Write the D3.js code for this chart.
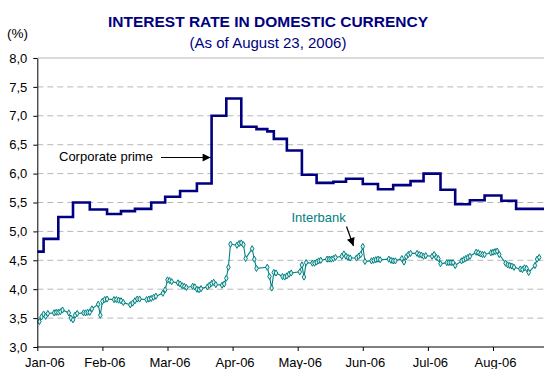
<!DOCTYPE html>
<html><head><meta charset="utf-8">
<script src="https://cdn.jsdelivr.net/npm/d3@7"></script>
<style>
html,body{margin:0;padding:0;background:#fff;}
svg{display:block;font-family:"Liberation Sans",Arial,sans-serif;}
</style>
</head><body>
<svg id="chart" width="544" height="369"></svg>
<script>
// ---------- data ----------
const title = "INTEREST RATE IN DOMESTIC CURRENCY";
const subtitle = "(As of August 23, 2006)";
const yUnit = "(%)";
const monthLabels = ["Jan-06","Feb-06","Mar-06","Apr-06","May-06","Jun-06","Jul-06","Aug-06"];
const yTicks = [3.0,3.5,4.0,4.5,5.0,5.5,6.0,6.5,7.0,7.5,8.0];

const primeName = "Corporate prime";
const primeDates = ["01-01","01-04","01-11","01-18","01-26","02-03","02-09","02-15","02-22","02-28",
  "03-07","03-15","03-22","03-29","04-05","04-12","04-17","04-20","04-26","05-03",
  "05-10","05-18","05-24","06-01","06-08","06-15","06-23","06-29","07-07","07-14",
  "07-21","07-28","08-05","08-12"];
const primeValues = [4.65,4.87,5.25,5.50,5.38,5.30,5.35,5.39,5.50,5.60,
  5.70,5.83,7.00,7.30,6.81,6.77,6.73,6.60,6.40,5.98,
  5.84,5.86,5.91,5.82,5.73,5.80,5.87,6.00,5.72,5.47,
  5.54,5.62,5.53,5.39];

const interbankName = "Interbank";
const interbankDates = [
  "01-02","01-03","01-04","01-05","01-06","01-09","01-10","01-11","01-12","01-13",
  "01-16","01-17","01-18","01-19","01-20","01-23","01-24","01-25","01-26","01-27","01-30","01-31",
  "02-01","02-02","02-03","02-06","02-07","02-08","02-09","02-10","02-13","02-14",
  "02-15","02-16","02-17","02-20","02-21","02-22","02-23","02-24","02-27","02-28",
  "03-01","03-02","03-03","03-06","03-07","03-08","03-09","03-10","03-13","03-14",
  "03-15","03-16","03-17","03-20","03-21","03-22","03-23","03-24","03-27","03-28","03-29","03-30","03-31",
  "04-03","04-04","04-05","04-06","04-07","04-10","04-11","04-12","04-17","04-18",
  "04-19","04-20","04-21","04-24","04-25","04-26","04-27","04-28",
  "05-02","05-03","05-04","05-05","05-08","05-09","05-10","05-11","05-12","05-15",
  "05-16","05-17","05-18","05-19","05-22","05-23","05-24","05-25","05-26","05-29","05-30","05-31",
  "06-01","06-02","06-05","06-06","06-07","06-08","06-09","06-13","06-14","06-15",
  "06-16","06-19","06-20","06-21","06-22","06-23","06-26","06-27","06-28","06-29","06-30",
  "07-03","07-04","07-05","07-06","07-07","07-10","07-11","07-12","07-13","07-14",
  "07-17","07-18","07-19","07-20","07-21","07-24","07-25","07-26","07-27","07-28","07-31",
  "08-01","08-02","08-03","08-04","08-07","08-08","08-09","08-10","08-11","08-14",
  "08-15","08-16","08-17","08-18","08-21","08-22","08-23"];
const interbankValues = [
  3.44,3.52,3.57,3.53,3.58,3.59,3.60,3.60,3.61,3.64,
  3.59,3.50,3.47,3.55,3.58,3.59,3.59,3.60,3.60,3.66,3.74,3.55,
  3.79,3.82,3.83,3.82,3.82,3.81,3.80,3.77,3.73,3.76,
  3.80,3.83,3.83,3.82,3.83,3.84,3.86,3.88,3.93,3.99,
  4.16,4.15,4.13,4.11,4.09,4.06,4.05,4.03,4.05,4.04,
  4.00,3.99,4.01,4.04,4.07,4.10,4.12,4.08,4.07,4.09,4.19,4.38,4.78,
  4.76,4.79,4.80,4.77,4.53,4.70,4.52,4.36,4.38,4.22,
  4.02,4.29,4.28,4.22,4.21,4.23,4.26,4.28,
  4.30,4.42,4.21,4.46,4.45,4.45,4.47,4.49,4.50,4.52,
  4.52,4.52,4.53,4.55,4.57,4.61,4.57,4.55,4.54,4.54,4.57,4.60,
  4.74,4.48,4.49,4.50,4.51,4.52,4.51,4.52,4.50,4.49,
  4.49,4.53,4.47,4.56,4.60,4.62,4.62,4.60,4.59,4.57,4.58,
  4.57,4.60,4.55,4.53,4.44,4.46,4.46,4.46,4.46,4.41,
  4.49,4.51,4.53,4.55,4.57,4.64,4.63,4.61,4.60,4.60,4.63,
  4.64,4.65,4.66,4.60,4.45,4.42,4.41,4.40,4.38,4.35,
  4.34,4.37,4.36,4.29,4.41,4.52,4.55];

// ---------- layout ----------
const W = 544, H = 369;
const plotLeft = 37.3, plotRight = 544, plotTop = 58, plotBottom = 347;
const monthStep = 65.1;
const navy = "#000080", teal = "#008080";

const parse = s => d3.timeParse("%Y-%m-%d")("2006-" + s);
const monthStarts = d3.range(9).map(i => new Date(2006, i, 1));

const x = d3.scaleTime()
  .domain(monthStarts)
  .range(monthStarts.map((d, i) => plotLeft + monthStep * i));
const y = d3.scaleLinear().domain([3, 8]).range([plotBottom, plotTop]);

const svg = d3.select("#chart");

svg.append("defs").append("clipPath").attr("id", "plotclip")
  .append("rect").attr("x", plotLeft).attr("y", plotTop - 5)
  .attr("width", plotRight - plotLeft).attr("height", plotBottom - plotTop + 10);

svg.select("defs").append("marker")
  .attr("id", "arrow").attr("viewBox", "0 0 10 10")
  .attr("refX", 10).attr("refY", 5)
  .attr("markerWidth", 10).attr("markerHeight", 8)
  .attr("markerUnits", "userSpaceOnUse")
  .attr("orient", "auto")
  .append("path").attr("d", "M0,0 L10,5 L0,10 Z").attr("fill", "#000");

// gridlines
const grid = svg.append("g");
yTicks.filter(v => v > 3).forEach(v => {
  grid.append("line")
    .attr("x1", plotLeft).attr("x2", plotRight)
    .attr("y1", y(v)).attr("y2", y(v))
    .attr("stroke", "#b8b8b8").attr("stroke-width", 1)
    .attr("stroke-dasharray", v === 8 ? null : "6,4");
});

// titles
svg.append("text").attr("x", 268).attr("y", 27).attr("text-anchor", "middle")
  .attr("font-size", "15.5px").attr("font-weight", "bold").attr("fill", navy).text(title);
svg.append("text").attr("x", 268).attr("y", 48).attr("text-anchor", "middle")
  .attr("font-size", "15px").attr("fill", navy).text(subtitle);
svg.append("text").attr("x", 7).attr("y", 38)
  .attr("font-size", "13.5px").attr("fill", "#000").text(yUnit);

// series
const plot = svg.append("g").attr("clip-path", "url(#plotclip)");

const primePts = primeDates.map((d, i) => [parse(d), primeValues[i]]);
const primeDrawn = primePts.concat([[x.domain()[x.domain().length - 1], primeValues[primeValues.length - 1]]]);
plot.append("path")
  .attr("d", d3.line().x(d => x(d[0])).y(d => y(d[1])).curve(d3.curveStepAfter)(primeDrawn))
  .attr("fill", "none").attr("stroke", navy).attr("stroke-width", 2.6)
  .attr("stroke-linejoin", "miter");

const ibPts = interbankDates.map((d, i) => [parse(d), interbankValues[i]]);
plot.append("path")
  .attr("d", d3.line().x(d => x(d[0])).y(d => y(d[1]))(ibPts))
  .attr("fill", "none").attr("stroke", teal).attr("stroke-width", 1.1);
const sym = d3.symbol().type(d3.symbolDiamond).size(11);
plot.selectAll("path.mk").data(ibPts).enter().append("path")
  .attr("class", "mk")
  .attr("transform", d => `translate(${x(d[0])},${y(d[1])})`)
  .attr("d", sym)
  .attr("fill", "#d8eeee").attr("stroke", teal).attr("stroke-width", 1);

// axes
const fmt = v => d3.format(".1f")(v).replace(".", ",");
const yAxis = svg.append("g").attr("transform", `translate(${plotLeft},0)`)
  .call(d3.axisLeft(y).tickValues(yTicks).tickFormat(fmt).tickSize(4).tickSizeOuter(0).tickPadding(6));
yAxis.selectAll("text").attr("font-size", "13px").attr("fill", "#000")
  .attr("font-family", '"Liberation Sans",Arial,sans-serif');
yAxis.selectAll("line,path").attr("stroke", "#000");

const xAxis = svg.append("g").attr("transform", `translate(0,${plotBottom})`)
  .call(d3.axisBottom(x).tickValues(monthStarts.slice(0, 8))
    .tickFormat((d, i) => monthLabels[i]).tickSize(4).tickSizeOuter(0).tickPadding(11));
xAxis.select(".domain").attr("d", `M${plotLeft},0H${plotRight}`);
xAxis.selectAll("text").attr("font-size", "13px").attr("fill", "#000")
  .attr("font-family", '"Liberation Sans",Arial,sans-serif')
  .attr("dy", "0") .attr("y", 20)
  .attr("dx", (d, i) => i === 0 ? 7 : 2);
xAxis.selectAll("line,path").attr("stroke", "#000");

// annotations
svg.append("text").attr("x", 59).attr("y", 161).attr("font-size", "13px").attr("fill", "#000").text(primeName);
svg.append("line").attr("x1", 161).attr("y1", 157.5).attr("x2", x(parse("03-22")) - 1).attr("y2", 157.5)
  .attr("stroke", "#000").attr("stroke-width", 1.2).attr("marker-end", "url(#arrow)");

svg.append("text").attr("x", 291.5).attr("y", 222).attr("font-size", "13px").attr("fill", teal).text(interbankName);
svg.append("line").attr("x1", 346.5).attr("y1", 226.5).attr("x2", 353.5).attr("y2", 246)
  .attr("stroke", "#000").attr("stroke-width", 1.2).attr("marker-end", "url(#arrow)");
</script>
</body></html>
